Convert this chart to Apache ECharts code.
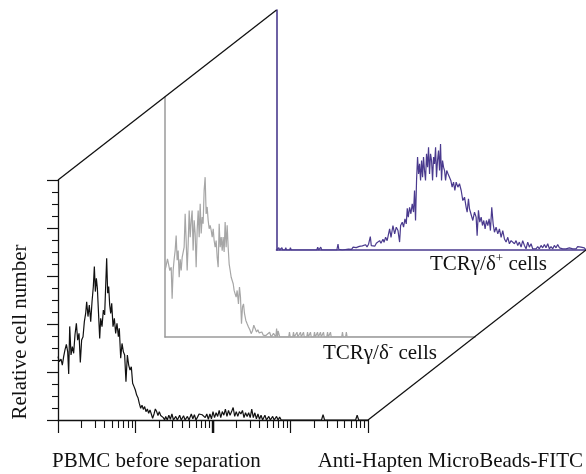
<!DOCTYPE html>
<html><head><meta charset="utf-8">
<script src="https://cdn.jsdelivr.net/npm/echarts@6/dist/echarts.min.js"></script>
<style>html,body{margin:0;padding:0;background:#fff}#c{width:586px;height:474px}</style>
</head><body><div id="c"></div>
<script>
// x = log10 fluorescence (decades), y = relative cell number (0-100 of panel height)
const frontData = [[0,26.4],[0.017,24.3],[0.039,25.4],[0.056,22.9],[0.073,26.4],[0.09,29.2],[0.108,31.5],[0.125,28.5],[0.138,19.2],[0.151,39.0],[0.168,27.1],[0.185,30.6],[0.202,27.8],[0.219,35.4],[0.237,40.3],[0.254,33.3],[0.271,36.1],[0.288,24.0],[0.305,33.3],[0.323,34.7],[0.34,41.0],[0.357,44.4],[0.37,49.3],[0.387,43.1],[0.404,47.9],[0.422,41.0],[0.439,49.3],[0.456,55.6],[0.469,63.9],[0.482,53.5],[0.495,59.0],[0.508,54.9],[0.52,46.5],[0.538,34.0],[0.551,42.4],[0.568,38.9],[0.585,45.8],[0.602,43.8],[0.615,55.6],[0.628,67.4],[0.641,52.8],[0.654,55.6],[0.667,47.9],[0.68,44.4],[0.693,48.6],[0.71,38.9],[0.727,42.4],[0.744,36.1],[0.761,40.3],[0.779,34.7],[0.791,38.2],[0.809,25.7],[0.826,31.9],[0.843,28.5],[0.86,27.1],[0.877,16.0],[0.895,27.1],[0.912,22.9],[0.929,20.8],[0.946,22.2],[0.963,15.3],[0.981,13.9],[0.998,12.5],[1.015,10.4],[1.032,9.3],[1.049,6.9],[1.067,4.9],[1.084,6.2],[1.101,4.4],[1.118,5.6],[1.135,3.5],[1.153,4.6],[1.17,2.8],[1.187,4.2],[1.204,2.5],[1.221,0.7],[1.239,2.5],[1.256,4.6],[1.273,3.5],[1.29,1.9],[1.307,3.5],[1.325,1.9],[1.342,2.5],[1.359,1.0],[1.376,0],
[1.39,1.5],[1.41,0],[1.43,2],[1.45,0.3],[1.47,2.5],[1.49,0],[1.52,1.5],[1.54,0],[1.57,2],[1.59,0],[1.62,1.8],[1.64,0],[1.67,1.5],[1.69,0],[1.72,2.5],[1.74,0.5],[1.76,2.2],[1.78,0],[1.8,1.2],[1.82,2.5],[1.84,2.8],[1.86,2.2],[1.88,3],[1.9,1],[1.92,2.5],[1.94,0.3],[1.96,2.5],[1.98,0.5],[2.0,3.5],[2.02,1],[2.04,3],[2.06,1.5],[2.08,4],[2.1,1],[2.12,3.5],[2.14,2],[2.16,4.5],[2.18,1.5],[2.2,4],[2.22,2],[2.24,3.5],[2.26,5.2],[2.28,1.5],[2.3,3.5],[2.32,1.5],[2.34,3.5],[2.36,2.5],[2.38,4],[2.4,1],[2.42,3],[2.44,1.5],[2.46,3],[2.48,1],[2.5,4.5],[2.52,1],[2.54,3],[2.56,0.5],[2.58,2.5],[2.6,0.3],[2.62,2],[2.64,0],[2.67,2],[2.69,0],[2.72,1.5],[2.74,0],[2.77,1.5],[2.79,0],[2.82,1.5],[2.84,0],[2.86,1.2],[2.88,0],[3.4,0],[3.42,2.2],[3.44,0],[3.84,0],[3.86,2],[3.88,0],[4,0]];

const grayData = [[0,28],[0.011,29.1],[0.032,32.6],[0.045,30.5],[0.062,27.7],[0.08,29.1],[0.092,15.9],[0.105,27.7],[0.118,32.4],[0.131,36.0],[0.144,42.3],[0.157,32.0],[0.17,36.0],[0.183,24.9],[0.196,32.4],[0.209,27.7],[0.222,33.3],[0.234,32.6],[0.247,37.4],[0.26,51.3],[0.273,40.2],[0.286,27.7],[0.299,38.8],[0.312,52.7],[0.325,41.6],[0.338,48.6],[0.35,52.7],[0.363,36.0],[0.376,48.6],[0.389,43.1],[0.402,29.1],[0.415,44.4],[0.428,52.7],[0.441,41.6],[0.454,55.5],[0.467,43.1],[0.48,50.0],[0.492,47.2],[0.505,61.1],[0.518,66.6],[0.531,51.3],[0.544,54.2],[0.557,48.6],[0.57,45.1],[0.583,46.5],[0.596,44.4],[0.609,41.6],[0.622,45.1],[0.634,40.2],[0.647,37.4],[0.66,40.2],[0.673,33.3],[0.686,29.1],[0.699,47.2],[0.712,37.4],[0.725,41.6],[0.738,36.0],[0.75,41.6],[0.763,35.4],[0.776,47.9],[0.789,37.4],[0.802,46.5],[0.815,37.4],[0.828,30.4],[0.841,27.7],[0.854,24.9],[0.867,24.9],[0.88,22.2],[0.892,19.4],[0.905,18.0],[0.918,16.6],[0.931,19.4],[0.948,13.8],[0.961,20.8],[0.974,16.6],[0.987,5.5],[1.0,12.5],[1.013,13.8],[1.026,9.7],[1.043,6.9],[1.06,5.5],[1.077,4.2],[1.095,3.0],[1.112,1.4],[1.129,2.6],[1.146,4.9],[1.163,3.5],[1.181,2.1],[1.198,3.0],[1.215,1.7],[1.232,1.1],[1.25,2.1],[1.267,0.8],[1.284,1.4],[1.301,0.6],[1.32,1.0],[1.35,2],[1.37,0],[1.4,1.5],[1.43,0],[1.44,3.5],[1.45,0],[1.46,2.5],[1.48,0],
[1.596,0],[1.606,2],[1.616,0],[1.648,0],[1.658,2],[1.668,0],[1.693,0],[1.703,2],[1.713,0],[1.738,0],[1.748,2],[1.758,0],[1.777,0],[1.787,2],[1.797,0],[1.829,0],[1.839,2],[1.849,0],[1.867,0],[1.877,2],[1.887,0],[1.919,0],[1.929,2],[1.939,0],[1.958,0],[1.968,2],[1.978,0],[1.996,0],[2.006,2],[2.016,0],[2.035,0],[2.045,2],[2.055,0],[2.087,0],[2.097,2],[2.107,0],[2.125,0],[2.135,2],[2.145,0],[2.28,0],[2.29,2],[2.3,0],[2.33,0],[2.34,2],[2.35,0],[4,0]];

const purpleData = [[0,0],[0.02,0],[0.03,1],[0.04,0],[0.06,0],[0.07,1],[0.08,0],[0.11,0],[0.12,1],[0.13,0],[0.17,0],[0.18,1],[0.19,0],[0.52,0],[0.533,1.2],[0.545,0],[0.56,0],[0.572,1.2],[0.585,0],[0.78,0],[0.795,2.5],[0.805,0.3],[0.83,0.4],[0.85,0],[0.87,0.8],[0.89,0.2],[0.91,0.9],[0.93,0.4],[0.95,1],[0.97,0.3],[0.99,1.2],[1.01,0.5],[1.03,1],[1.05,0.6],[1.07,1.5],[1.09,0.7],[1.11,1.7],[1.13,1.0],[1.15,2.2],[1.17,1.3],[1.19,2.4],[1.2125,5.6],[1.225,1.8],[1.25,2.5],[1.27,1.6],[1.29,2.8],[1.31,2.0],[1.333,3.9],[1.35,2.8],[1.376,4.5],[1.39,3.2],[1.41,5.3],[1.43,3.9],[1.462,8.8],[1.48,5.3],[1.505,10.2],[1.527,6.7],[1.548,9.5],[1.57,8.1],[1.591,3.3],[1.604,10.2],[1.625,11.6],[1.642,9.5],[1.66,13],[1.677,10.9],[1.69,17.4],[1.703,13.7],[1.72,17.8],[1.737,15.1],[1.754,19.2],[1.771,15.8],[1.784,24.8],[1.797,12.3],[1.81,29],[1.823,38.7],[1.836,31.7],[1.849,35.9],[1.862,29],[1.875,37.3],[1.888,30.3],[1.9,38.7],[1.913,33.1],[1.926,29],[1.939,40.1],[1.952,34.5],[1.965,42.8],[1.978,31.7],[1.991,40.1],[2.004,37.3],[2.017,29],[2.03,38.7],[2.043,35.9],[2.056,42.8],[2.068,30.3],[2.081,37.3],[2.094,41.4],[2.107,33.1],[2.12,44.2],[2.133,29],[2.146,37.3],[2.159,34.5],[2.172,33.1],[2.185,29],[2.2,33.1],[2.218,31.7],[2.236,32.4],[2.253,29],[2.27,26.2],[2.288,28.3],[2.305,24.8],
[2.322,28.3],[2.344,26.2],[2.365,27.6],[2.387,24.8],[2.408,20.6],[2.43,22.0],[2.451,17.8],[2.464,15.8],[2.481,21.3],[2.494,17.2],[2.516,16.5],[2.537,12.3],[2.559,15.8],[2.58,13.7],[2.593,6.0],[2.61,16.5],[2.627,11.6],[2.645,13.7],[2.662,10.2],[2.679,12.3],[2.696,8.8],[2.713,12.3],[2.731,10.2],[2.748,13.0],[2.765,8.1],[2.782,17.8],[2.8,10.9],[2.817,7.4],[2.838,9.5],[2.86,6.7],[2.881,8.8],[2.903,5.3],[2.924,8.1],[2.946,4.6],[2.967,3.3],[2.989,5.3],[3.01,2.6],[3.032,3.9],[3.053,4.6],[3.075,2.6],[3.096,3.9],[3.118,1.9],[3.139,3.3],[3.161,1.2],[3.182,3.9],[3.204,1.9],[3.225,0.5],[3.247,3.3],[3.268,1.2],[3.29,2.6],[3.311,0.5],[3.333,1.2],[3.354,0.5],[3.376,1.4],[3.397,0.5],[3.419,1.9],[3.44,0.9],[3.462,2.3],[3.483,0.9],[3.505,2.6],[3.527,0.5],[3.548,1.4],[3.57,0.5],[3.591,1.9],[3.613,0.9],[3.634,2.3],[3.656,0.9],[3.677,1.4],[3.699,0.5],[3.72,1.2],[3.742,0.5],[3.763,1.2],[3.785,0.9],[3.806,1.4],[3.828,0.5],[3.849,1.2],[3.871,0.5],[3.892,1.4],[3.914,0.9],[3.935,1.2],[3.957,0.5],[3.978,0.9],[4,0]];

const decades = [0, 1, 2, 3];
const minorMultipliers = [2, 3, 4, 5, 6, 7, 8, 9];
const strongDecadeTicks = [2];
const yLabel = 'Relative cell number';
const xLabelLeft = 'PBMC before separation';
const xLabelRight = 'Anti-Hapten MicroBeads-FITC';
const negLabel = ['TCRγ/δ', '-', ' cells'];
const posLabel = ['TCRγ/δ', '+', ' cells'];

const FONT = '"Liberation Serif", "Times New Roman", serif';
const BLACK = '#111';
const GRAY_AXIS = '#9a9a9a';
const GRAY_LINE = '#a6a6a6';
const PURPLE = '#4a3a8e';

const minorTickValues = [];
decades.forEach(d => minorMultipliers.forEach(m => minorTickValues.push(d + Math.log10(m))));

const chart = echarts.init(document.getElementById('c'), null, {renderer: 'canvas'});

function baseX(grid, extra) {
  return Object.assign({
    type: 'value', gridIndex: grid, min: 0, max: 4, interval: 1, position: 'bottom',
    axisLabel: {show: false}, splitLine: {show: false}
  }, extra);
}
function baseY(grid, extra) {
  return Object.assign({
    type: 'value', gridIndex: grid, min: 0, max: 100, interval: 20, position: 'left',
    axisLabel: {show: false}, splitLine: {show: false}
  }, extra);
}

chart.setOption({
  animation: false,
  backgroundColor: '#fff',
  grid: [
    {left: 58, top: 180, width: 310, height: 240},
    {left: 165, top: 97, width: 310, height: 240},
    {left: 276.5, top: 10, width: 310, height: 240}
  ],
  xAxis: [
    baseX(0, {axisLine: {show: true, lineStyle: {color: BLACK, width: 1.3}},
      axisTick: {show: true, length: 13, lineStyle: {color: BLACK, width: 1.2}}}),
    baseX(0, {axisLine: {show: false}, offset: 0,
      axisTick: {show: true, length: 8, customValues: minorTickValues, lineStyle: {color: BLACK, width: 1.1}}}),
    baseX(0, {axisLine: {show: false}, offset: 0,
      axisTick: {show: true, length: 13, customValues: strongDecadeTicks, lineStyle: {color: BLACK, width: 2.4}}}),
    baseX(1, {axisLine: {show: true, lineStyle: {color: GRAY_AXIS, width: 1.5}}, axisTick: {show: false}}),
    baseX(2, {axisLine: {show: true, lineStyle: {color: PURPLE, width: 1.6}}, axisTick: {show: false}})
  ],
  yAxis: [
    baseY(0, {axisLine: {show: true, lineStyle: {color: BLACK, width: 1.3}},
      axisTick: {show: true, length: 11, lineStyle: {color: BLACK, width: 1.2}},
      minorTick: {show: true, splitNumber: 4, length: 6, lineStyle: {color: BLACK, width: 1.1}}}),
    baseY(1, {axisLine: {show: true, lineStyle: {color: GRAY_AXIS, width: 1.5}}, axisTick: {show: false}}),
    baseY(2, {axisLine: {show: true, lineStyle: {color: PURPLE, width: 1.6}}, axisTick: {show: false}})
  ],
  series: [
    {type: 'line', xAxisIndex: 3, yAxisIndex: 1, data: grayData, showSymbol: false, symbol: 'none',
      lineStyle: {color: GRAY_LINE, width: 1.2}, z: 2},
    {type: 'line', xAxisIndex: 4, yAxisIndex: 2, data: purpleData, showSymbol: false, symbol: 'none',
      lineStyle: {color: PURPLE, width: 1.2}, z: 2},
    {type: 'line', xAxisIndex: 0, yAxisIndex: 0, data: frontData, showSymbol: false, symbol: 'none',
      lineStyle: {color: BLACK, width: 1.2}, z: 3}
  ]
});

// Perspective connector lines, derived from the panel corners
const fTop = chart.convertToPixel({xAxisIndex: 0, yAxisIndex: 0}, [0, 100]);
const pTop = chart.convertToPixel({xAxisIndex: 4, yAxisIndex: 2}, [0, 100]);
const fEnd = chart.convertToPixel({xAxisIndex: 0, yAxisIndex: 0}, [4, 0]);
const pEnd = chart.convertToPixel({xAxisIndex: 4, yAxisIndex: 2}, [4, 0]);

const richStyles = {
  m: {fontFamily: FONT, fontSize: 21, lineHeight: 24, fill: BLACK, verticalAlign: 'middle'},
  s: {fontFamily: FONT, fontSize: 13, lineHeight: 13, fill: BLACK, verticalAlign: 'top'}
};
function richText(parts) {
  return '{m|' + parts[0] + '}{s|' + parts[1] + '}{m|' + parts[2] + '}';
}

chart.setOption({
  graphic: [
    {type: 'line', shape: {x1: fTop[0], y1: fTop[1], x2: pTop[0], y2: pTop[1]},
      style: {stroke: BLACK, lineWidth: 1.3}, z: 10},
    {type: 'line', shape: {x1: fEnd[0], y1: fEnd[1], x2: pEnd[0], y2: pEnd[1]},
      style: {stroke: BLACK, lineWidth: 1.3}, z: 10},
    {type: 'text', x: 20, y: 332, rotation: Math.PI / 2,
      style: {text: yLabel, font: '21px ' + FONT, fill: BLACK, textAlign: 'center', textVerticalAlign: 'middle'}},
    {type: 'text', x: 52, y: 461,
      style: {text: xLabelLeft, font: '21px ' + FONT, fill: BLACK, textAlign: 'left', textVerticalAlign: 'middle'}},
    {type: 'text', x: 583, y: 461,
      style: {text: xLabelRight, font: '21px ' + FONT, fill: BLACK, textAlign: 'right', textVerticalAlign: 'middle'}},
    {type: 'text', x: 323, y: 353, z: 12,
      style: {text: richText(negLabel), rich: richStyles, textAlign: 'left', textVerticalAlign: 'middle'}},
    {type: 'text', x: 430, y: 264, z: 12,
      style: {text: richText(posLabel), rich: richStyles, textAlign: 'left', textVerticalAlign: 'middle'}}
  ]
});
</script></body></html>
